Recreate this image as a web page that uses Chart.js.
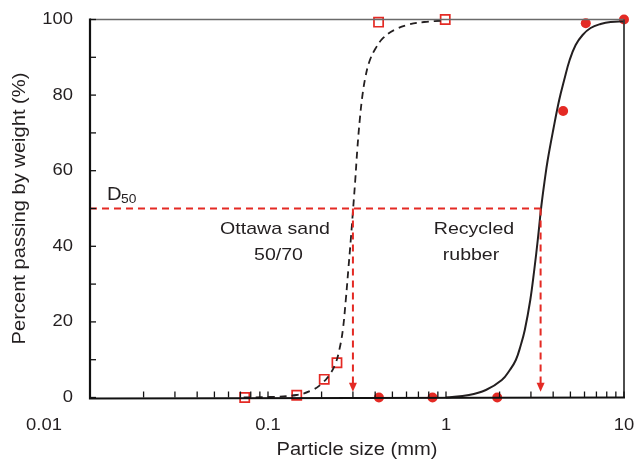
<!DOCTYPE html>
<html>
<head>
<meta charset="utf-8">
<script src="https://cdn.jsdelivr.net/npm/chart.js@4/dist/chart.umd.min.js"></script>
<style>
html,body{margin:0;padding:0;background:#fff;}
#wrap{width:635px;height:461px;position:relative;}
</style>
</head>
<body>
<div id="wrap"><canvas id="c" width="635" height="461"></canvas></div>
<script>
// ---- data ----
const sandCurveX = [0.073, 0.102, 0.1444, 0.1752, 0.1994, 0.2211, 0.2389, 0.2515, 0.2632, 0.2735, 0.2825, 0.2917, 0.3013, 0.3092, 0.3173, 0.3277, 0.3384, 0.3518, 0.3704, 0.4002, 0.4437, 0.5113, 0.6204, 0.753, 0.987];
const sandCurveY = [0, 0.13, 0.66, 1.85, 3.57, 5.95, 8.86, 12.57, 17.86, 25.79, 33.73, 41.67, 50.4, 57.54, 65.48, 73.41, 79.5, 84.52, 88.76, 92.2, 95.11, 97.22, 98.68, 99.34, 99.74];
const rubberCurveX = [1.0, 1.346, 1.675, 2.059, 2.283, 2.468, 2.632, 2.771, 2.975, 3.132, 3.277, 3.428, 3.586, 3.727, 4.002, 4.324, 4.612, 4.951, 5.35, 5.855, 6.492, 7.384, 8.403, 10];
const rubberCurveY = [0, 0.66, 1.98, 4.63, 7.28, 9.92, 13.89, 17.86, 25.79, 33.73, 41.67, 50.4, 57.5, 62.83, 70.77, 78.7, 84.0, 89.29, 93.25, 95.9, 97.75, 98.8, 99.34, 99.47];
const sandPtsX = [0.074, 0.145, 0.207, 0.244, 0.418, 0.99];
const sandPtsY = [0, 0.6, 4.8, 9.2, 99.3, 100];
const rubberPtsX = [0.42, 0.84, 1.94, 4.55, 6.1, 10];
const rubberPtsY = [0, 0, 0, 75.8, 99, 100];
const d50Level = 50;
const d50Sand = 0.30;
const d50Rubber = 3.4;
const arrowTipY = 1.5;
const xTickValues = [0.01,0.02,0.03,0.04,0.05,0.06,0.07,0.08,0.09,0.1,0.2,0.3,0.4,0.5,0.6,0.7,0.8,0.9,1,2,3,4,5,6,7,8,9,10];
const xTickLabels = {0.01:'0.01', 0.1:'0.1', 1:'1', 10:'10'};
const yTickValues = [0,10,20,30,40,50,60,70,80,90,100];
const yTickLabels = {0:'0',20:'20',40:'40',60:'60',80:'80',100:'100'};

const RED = '#e42a24';
const INK = '#231f20';
const SX = 1.15;

const pts = (xs, ys) => xs.map((x, i) => ({x: x, y: ys[i]}));

function txt(ctx, s, x, y, size, align, rot) {
  ctx.save();
  ctx.translate(x, y);
  if (rot) ctx.rotate(rot);
  ctx.scale(SX, 1);
  ctx.font = size + 'px "Liberation Sans", Arial, Helvetica, sans-serif';
  ctx.textAlign = align || 'center';
  ctx.textBaseline = 'middle';
  ctx.fillStyle = INK;
  ctx.fillText(s, 0, 0);
  ctx.restore();
}

const framePlugin = {
  id: 'frame',
  afterDatasetsDraw(chart) {
    const ctx = chart.ctx, a = chart.chartArea;
    const xs = chart.scales.x, ys = chart.scales.y;
    // arrowheads
    ctx.save();
    ctx.fillStyle = RED;
    [d50Sand, d50Rubber].forEach(v => {
      const px = xs.getPixelForValue(v), py = ys.getPixelForValue(arrowTipY);
      ctx.beginPath();
      ctx.moveTo(px, py);
      ctx.lineTo(px - 4, py - 9);
      ctx.lineTo(px + 4, py - 9);
      ctx.closePath();
      ctx.fill();
    });
    ctx.restore();
    // frame
    ctx.save();
    ctx.lineCap = 'butt';
    ctx.strokeStyle = '#6a6a6a'; ctx.lineWidth = 1.5;
    ctx.beginPath(); ctx.moveTo(a.left, a.top); ctx.lineTo(a.right, a.top); ctx.stroke();
    ctx.strokeStyle = '#3a3a3a'; ctx.lineWidth = 1.8;
    ctx.beginPath(); ctx.moveTo(a.right, a.top); ctx.lineTo(a.right, a.bottom); ctx.stroke();
    ctx.strokeStyle = '#111'; ctx.lineWidth = 2.2;
    ctx.beginPath(); ctx.moveTo(a.left, a.top - 1); ctx.lineTo(a.left, a.bottom + 1); ctx.lineTo(a.right + 1, a.bottom); ctx.stroke();
    // ticks (inward)
    ctx.lineWidth = 1.3;
    xs.ticks.forEach(t => {
      const px = xs.getPixelForValue(t.value);
      ctx.beginPath(); ctx.moveTo(px, a.bottom); ctx.lineTo(px, a.bottom - 6); ctx.stroke();
    });
    ys.ticks.forEach(t => {
      const py = ys.getPixelForValue(t.value);
      ctx.beginPath(); ctx.moveTo(a.left, py); ctx.lineTo(a.left + 6, py); ctx.stroke();
    });
    ctx.restore();
    // tick labels
    xs.ticks.forEach(t => {
      const lab = xTickLabels[t.value];
      if (!lab) return;
      let px = xs.getPixelForValue(t.value);
      if (t.value === 0.01) px = px - 46;
      txt(ctx, lab, px, 426, 16, 'center');
    });
    ys.ticks.forEach(t => {
      const lab = yTickLabels[t.value];
      if (lab === undefined) return;
      txt(ctx, lab, 73, ys.getPixelForValue(t.value), 16, 'right');
    });
    // axis titles
    txt(ctx, 'Particle size (mm)', (a.left + a.right) / 2 + 0, 450, 17.5, 'center');
    txt(ctx, 'Percent passing by weight (%)', 20, (a.top + a.bottom) / 2, 17.5, 'center', -Math.PI / 2);
    // annotations
    txt(ctx, 'D', 107, 195, 17.5, 'left');
    txt(ctx, '50', 121, 200, 12, 'left');
    txt(ctx, 'Ottawa sand', 275, 229, 17, 'center');
    txt(ctx, '50/70', 278.5, 255, 17, 'center');
    txt(ctx, 'Recycled', 474, 229, 17, 'center');
    txt(ctx, 'rubber', 471, 255, 17, 'center');
  }
};

new Chart(document.getElementById('c'), {
  type: 'scatter',
  data: {
    datasets: [
      { label: 'D50 line', data: [{x: 0.01, y: d50Level}, {x: d50Rubber, y: d50Level}],
        showLine: true, borderColor: RED, borderWidth: 2, borderDash: [7, 5], pointRadius: 0, clip: false },
      { label: 'sand arrow', data: [{x: d50Sand, y: d50Level}, {x: d50Sand, y: arrowTipY + 2}],
        showLine: true, borderColor: RED, borderWidth: 2, borderDash: [7, 5], pointRadius: 0, clip: false },
      { label: 'rubber arrow', data: [{x: d50Rubber, y: d50Level}, {x: d50Rubber, y: arrowTipY + 2}],
        showLine: true, borderColor: RED, borderWidth: 2, borderDash: [7, 5], pointRadius: 0, clip: false },
      { label: 'sand curve', data: pts(sandCurveX, sandCurveY), showLine: true,
        tension: 0.4, borderColor: INK, borderWidth: 1.8, borderDash: [7, 5],
        pointRadius: 0, clip: false },
      { label: 'rubber curve', data: pts(rubberCurveX, rubberCurveY), showLine: true,
        tension: 0.4, borderColor: INK, borderWidth: 2, pointRadius: 0, clip: false },
      { label: 'Ottawa sand', data: pts(sandPtsX, sandPtsY), showLine: false,
        pointStyle: 'rect', pointRadius: 6.5, pointBorderWidth: 1.7, pointBorderColor: RED,
        pointBackgroundColor: 'rgba(255,255,255,0)', clip: false },
      { label: 'Recycled rubber', data: pts(rubberPtsX, rubberPtsY), showLine: false,
        pointStyle: 'circle', pointRadius: 5, pointBorderWidth: 0, pointBorderColor: RED,
        pointBackgroundColor: RED, clip: false }
    ]
  },
  options: {
    responsive: false,
    animation: false,
    layout: { padding: { left: 0, right: 11, top: 19.5, bottom: 0 } },
    plugins: { legend: { display: false }, tooltip: { enabled: false } },
    scales: {
      x: {
        type: 'logarithmic', min: 0.01, max: 10,
        grid: { display: false }, border: { display: false },
        ticks: { display: false },
        afterBuildTicks(s) { s.ticks = xTickValues.map(v => ({value: v})); },
        afterFit(s) { s.height = 63.5; }
      },
      y: {
        type: 'linear', min: 0, max: 100,
        grid: { display: false }, border: { display: false },
        ticks: { display: false },
        afterBuildTicks(s) { s.ticks = yTickValues.map(v => ({value: v})); },
        afterFit(s) { s.width = 90; }
      }
    }
  },
  plugins: [framePlugin]
});
</script>
</body>
</html>
